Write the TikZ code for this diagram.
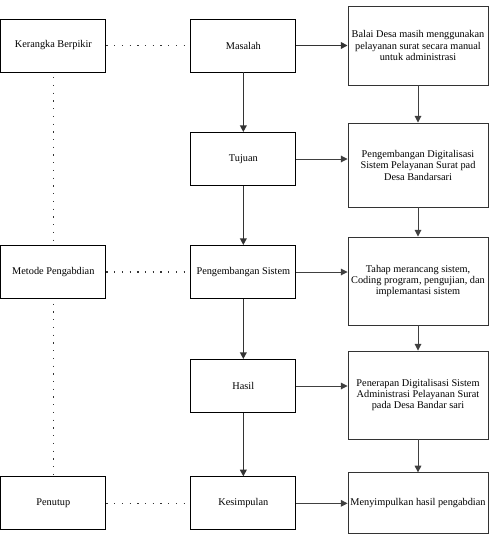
\documentclass[tikz,border=0pt]{standalone}
\usepackage{fontspec}
\setmainfont{Liberation Serif}
\usetikzlibrary{arrows.meta, positioning}

\begin{document}
\begin{tikzpicture}[
        box/.style={draw, line width=0.8pt, minimum width=3.15cm,
                    minimum height=1.59cm, align=center, inner sep=0.5pt,
                    font=\fontsize{8.8}{9.8}\selectfont},
        info/.style={box, draw=black!80, minimum width=4.2cm},
        arr/.style={-{Triangle[length=2mm, width=2mm]}, line width=1.3pt, black!80},
        thinarr/.style={-{Triangle[length=2mm, width=2mm]}, line width=0.8pt, black!75},
        dotline/.style={line width=1.1pt, dash pattern=on 1.1pt off 5.5pt, black!80}
    ]
        \useasboundingbox (0, 0) rectangle (14.82, -16.08);

        % kiri
        \node[box] (kerangka) at (1.6, -1.365) {Kerangka Berpikir};
        \node[box] (metode) at (1.6, -8.16) {Metode Pengabdian};
        \node[box] (penutup) at (1.6, -15.1) {Penutup};

        % tengah
        \node[box] (masalah) at (7.3, -1.365) {Masalah};
        \node[box] (tujuan) at (7.3, -4.77) {Tujuan};
        \node[box] (pengembangan) at (7.3, -8.16) {Pengembangan Sistem};
        \node[box] (hasil) at (7.3, -11.58) {Hasil};
        \node[box] (kesimpulan) at (7.3, -15.1) {Kesimpulan};

        % kanan
        \node[info, minimum height=2.37cm] (ket1) at (12.54, -1.365)
            {Balai Desa masih menggunakan\\pelayanan surat secara manual\\untuk administrasi};
        \node[info, minimum height=2.52cm] (ket2) at (12.54, -4.95)
            {Pengembangan Digitalisasi\\Sistem Pelayanan Surat pad\\Desa Bandarsari};
        \node[info, minimum height=2.64cm] (ket3) at (12.54, -8.43)
            {Tahap merancang sistem,\\Coding program, pengujian, dan\\implemantasi sistem};
        \node[info, minimum height=2.64cm] (ket4) at (12.54, -11.85)
            {Penerapan Digitalisasi Sistem\\Administrasi Pelayanan Surat\\pada Desa Bandar sari};
        \node[info, minimum height=1.83cm] (ket5) at (12.54, -15.1)
            {Menyimpulkan hasil pengabdian};

        % garis titik-titik
        \draw[dotline] (kerangka) -- (masalah);
        \draw[dotline] (metode) -- (pengembangan);
        \draw[dotline] (penutup) -- (kesimpulan);
        \draw[dotline, shorten <=4pt] (kerangka) -- (metode);
        \draw[dotline, shorten <=4pt, shorten >=2pt] (metode) -- (penutup);

        % alur tengah
        \draw[arr] (masalah) -- (tujuan);
        \draw[arr] (tujuan) -- (pengembangan);
        \draw[arr] (pengembangan) -- (hasil);
        \draw[arr] (hasil) -- (kesimpulan);

        % ke keterangan
        \draw[arr] (masalah) -- (ket1);
        \draw[thinarr] (tujuan.east) -- (tujuan.east -| ket2.west);
        \draw[thinarr] (pengembangan.east) -- (pengembangan.east -| ket3.west);
        \draw[thinarr] (hasil.east) -- (hasil.east -| ket4.west);
        \draw[thinarr] (kesimpulan) -- (ket5);

        % alur kanan
        \draw[thinarr] (ket1) -- (ket2);
        \draw[thinarr] (ket2) -- (ket3);
        \draw[thinarr] (ket3) -- (ket4);
        \draw[thinarr] (ket4) -- (ket5);
    \end{tikzpicture}
\end{document}
